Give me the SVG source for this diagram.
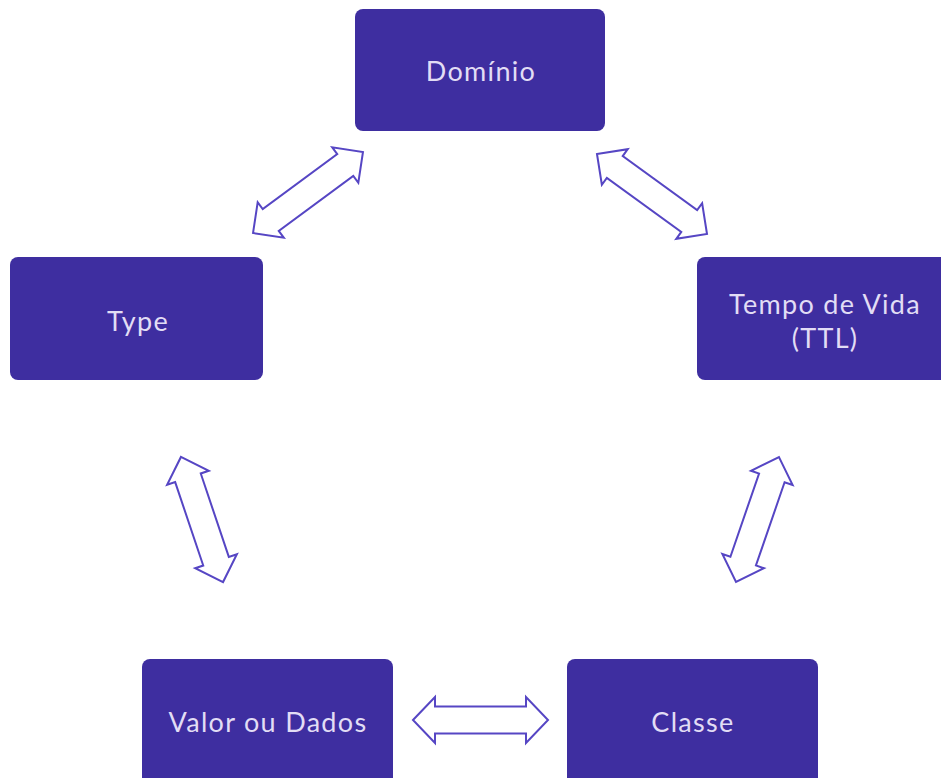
<svg xmlns="http://www.w3.org/2000/svg" width="941" height="778" viewBox="0 0 941 778">
<style>
.box{fill:#3e2ea0}
.lbl{fill:#e2ddf5;font-family:Lato,"Open Sans",sans-serif;font-size:27px;letter-spacing:1.3px;text-anchor:middle;dominant-baseline:central}
.arr{fill:#ffffff;stroke:#5646c4;stroke-width:2;stroke-linejoin:miter}
</style>
<rect width="941" height="778" fill="#ffffff"/>
<g id="dominio"><rect class="box" x="355" y="9" width="250" height="122" rx="8"/><text class="lbl" x="481" y="70">Domínio</text></g>
<g id="type"><rect class="box" x="10" y="257" width="253" height="123" rx="8"/><text class="lbl" x="138" y="320">Type</text></g>
<g id="ttl"><rect class="box" x="697" y="257" width="254" height="123" rx="8"/><text class="lbl" x="825" y="303">Tempo de Vida</text><text class="lbl" x="825" y="337">(TTL)</text></g>
<g id="valor"><rect class="box" x="142" y="659" width="251" height="130" rx="8"/><text class="lbl" x="268" y="721">Valor ou Dados</text></g>
<g id="classe"><rect class="box" x="567" y="659" width="251" height="130" rx="8"/><text class="lbl" x="693" y="721">Classe</text></g>
<g id="connectors">
<path class="arr" transform="translate(480.5,720)" d="M-67.5,0 L-45.5,-23 L-45.5,-13.5 L45.5,-13.5 L45.5,-23 L67.5,0 L45.5,23 L45.5,13.5 L-45.5,13.5 L-45.5,23 Z"/>
<path class="arr" transform="translate(308,192.5) rotate(-36.4)" d="M-68.3,0 L-46.3,-22 L-46.3,-13.5 L46.3,-13.5 L46.3,-22 L68.3,0 L46.3,22 L46.3,13.5 L-46.3,13.5 L-46.3,22 Z"/>
<path class="arr" transform="translate(652,194) rotate(36)" d="M-68,0 L-46,-22 L-46,-13.5 L46,-13.5 L46,-22 L68,0 L46,22 L46,13.5 L-46,13.5 L-46,22 Z"/>
<path class="arr" transform="translate(202,519.5) rotate(71.4)" d="M-66,0 L-44,-22 L-44,-13.5 L44,-13.5 L44,-22 L66,0 L44,22 L44,13.5 L-44,13.5 L-44,22 Z"/>
<path class="arr" transform="translate(757.5,519.5) rotate(109)" d="M-66,0 L-44,-22 L-44,-13.5 L44,-13.5 L44,-22 L66,0 L44,22 L44,13.5 L-44,13.5 L-44,22 Z"/>
</g>
</svg>
